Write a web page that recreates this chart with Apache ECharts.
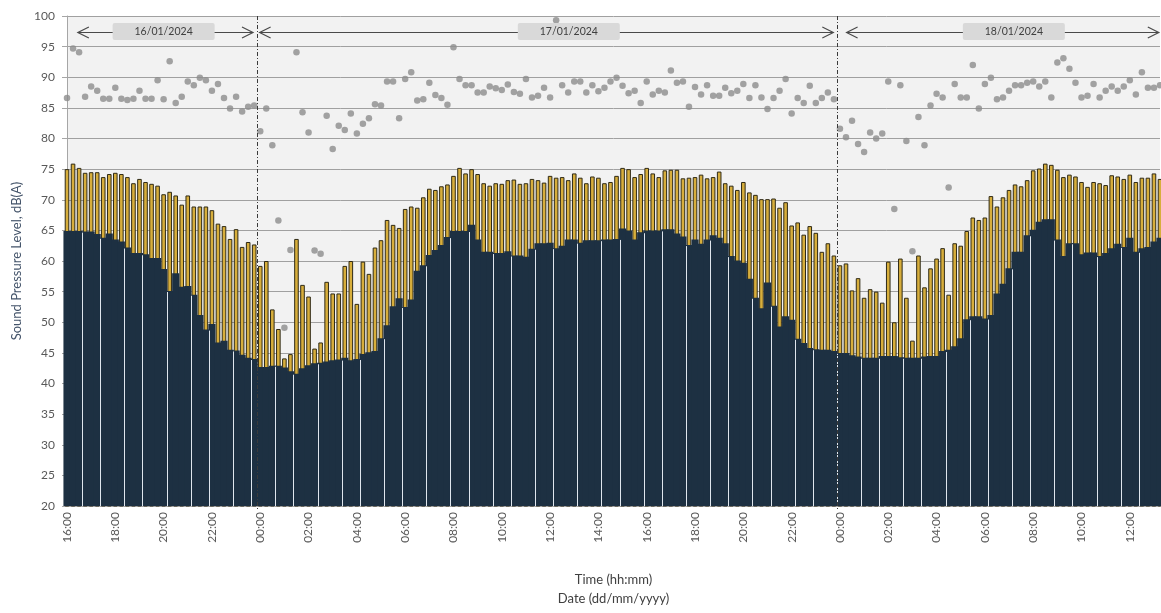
<!DOCTYPE html>
<html>
<head>
<meta charset="utf-8">
<script src="https://cdn.jsdelivr.net/npm/echarts@6/dist/echarts.min.js"></script>
<style>
  html, body { margin: 0; padding: 0; background: #ffffff; }
  #chart { width: 1161px; height: 613px; }
</style>
</head>
<body>
<div id="chart"></div>
<script>
// Measurement period: 15-minute intervals starting 16:00 on 16/01/2024
const startMinutes = 16 * 60;
const intervalMinutes = 15;
const intervalCount = 182;
const timeLabels = [];
for (let i = 0; i < intervalCount; i++) {
  const m = (startMinutes + i * intervalMinutes) % 1440;
  timeLabels.push(String(Math.floor(m / 60)).padStart(2, '0') + ':' + String(m % 60).padStart(2, '0'));
}

// LAeq,15min (dB)
const laeq = [
  75.0, 75.9, 75.2, 74.4, 74.5, 74.5, 73.7, 74.2, 74.4, 74.2,
  73.7, 72.7, 73.4, 72.9, 72.6, 72.3, 70.9, 71.3, 70.7, 69.2,
  70.7, 68.9, 68.9, 68.9, 68.3, 66.1, 65.7, 63.6, 65.2, 62.3,
  63.1, 62.7, 59.2, 60.0, 52.1, 48.9, 44.1, 44.8, 63.6, 56.1,
  54.2, 45.7, 46.7, 56.6, 54.7, 54.7, 59.2, 60.0, 53.0, 59.9,
  57.9, 62.2, 63.4, 66.7, 65.9, 65.4, 68.5, 68.9, 68.7, 70.4,
  71.8, 71.6, 72.2, 72.5, 73.9, 75.2, 74.3, 75.0, 74.2, 72.7,
  72.3, 72.7, 72.6, 73.2, 73.3, 72.6, 72.7, 73.4, 73.2, 72.8,
  73.9, 73.6, 73.7, 73.2, 74.3, 73.6, 72.7, 73.8, 73.6, 72.7,
  72.9, 73.9, 75.2, 75.0, 73.7, 74.2, 75.2, 74.3, 73.7, 74.8,
  74.9, 74.9, 73.5, 73.6, 73.7, 74.1, 73.5, 73.7, 74.6, 72.7,
  72.3, 71.6, 72.9, 71.2, 70.8, 70.1, 70.1, 70.2, 68.7, 69.6,
  65.8, 66.3, 64.3, 65.7, 64.6, 61.5, 62.9, 60.9, 59.3, 59.6,
  55.2, 57.2, 54.0, 55.4, 55.0, 53.2, 59.9, 50.0, 60.4, 54.0,
  47.0, 60.9, 55.7, 58.8, 60.4, 62.1, 54.5, 62.9, 62.5, 64.9,
  67.1, 66.7, 67.1, 70.6, 68.9, 70.4, 71.6, 72.5, 72.2, 73.2,
  74.8, 75.1, 75.9, 75.7, 74.9, 73.7, 74.1, 73.8, 72.9, 72.1,
  72.9, 72.7, 72.4, 74.0, 73.8, 73.4, 74.1, 72.9, 73.6, 73.6,
  74.3, 73.4
];

// LA90,15min (dB)
const la90 = [
  64.9, 64.9, 64.9, 64.8, 64.8, 64.4, 63.8, 64.5, 63.5, 63.2,
  62.2, 61.3, 61.3, 61.1, 60.5, 60.5, 58.7, 55.1, 58.0, 55.8,
  55.9, 54.5, 51.2, 48.8, 49.7, 46.7, 47.0, 45.5, 45.4, 44.7,
  44.2, 44.0, 42.7, 42.7, 42.9, 42.9, 42.6, 42.0, 41.6, 42.5,
  43.0, 43.3, 43.4, 43.6, 43.8, 43.9, 44.2, 43.8, 44.0, 44.8,
  45.1, 45.3, 47.4, 49.5, 52.6, 53.9, 52.5, 53.7, 58.4, 59.3,
  61.0, 61.8, 62.6, 63.9, 64.9, 64.9, 64.9, 65.9, 63.5, 61.5,
  61.5, 61.3, 61.3, 61.6, 60.9, 60.9, 60.7, 62.0, 62.9, 62.9,
  63.0, 62.1, 62.5, 63.5, 63.5, 63.0, 63.4, 63.4, 63.4, 63.5,
  63.5, 63.6, 65.3, 65.0, 63.5, 64.7, 65.0, 65.0, 65.0, 65.2,
  65.2, 64.5, 64.0, 62.6, 63.5, 62.8, 63.5, 64.2, 63.8, 62.9,
  60.8, 60.1, 59.7, 57.1, 54.0, 52.3, 56.5, 52.7, 49.3, 51.0,
  50.4, 47.3, 46.6, 45.8, 45.6, 45.5, 45.5, 45.3, 45.0, 45.0,
  44.6, 44.4, 44.2, 44.2, 44.2, 44.5, 44.5, 44.5, 44.3, 44.2,
  44.2, 44.2, 44.4, 44.5, 44.5, 45.3, 45.5, 46.1, 47.4, 50.5,
  51.0, 51.0, 50.6, 51.2, 54.7, 56.3, 58.8, 61.5, 61.5, 64.2,
  65.1, 66.4, 66.8, 66.8, 63.5, 60.8, 62.9, 62.9, 61.1, 61.4,
  61.4, 60.8, 61.3, 62.1, 62.8, 62.3, 63.8, 61.5, 62.1, 62.3,
  63.2, 63.8
];

// LAmax,15min (dB)
const lamax = [
  86.6, 94.7, 94.1, 86.8, 88.5, 87.8, 86.5, 86.5, 88.3, 86.5,
  86.3, 86.5, 87.8, 86.5, 86.5, 89.5, 86.4, 92.6, 85.8, 86.8,
  89.3, 88.7, 89.9, 89.5, 87.8, 88.9, 86.6, 84.9, 86.8, 84.4,
  85.2, 85.4, 81.2, 84.9, 78.9, 66.6, 49.1, 61.8, 94.1, 84.3,
  81.0, 61.7, 61.2, 83.7, 78.3, 82.1, 81.4, 84.1, 80.8, 82.4,
  83.3, 85.6, 85.4, 89.3, 89.3, 83.3, 89.7, 90.8, 86.2, 86.4,
  89.1, 87.1, 86.6, 85.5, 94.9, 89.7, 88.7, 88.7, 87.5, 87.5,
  88.5, 88.2, 87.9, 88.8, 87.6, 87.3, 89.7, 86.7, 87.0, 88.3,
  86.7, 99.3, 88.7, 87.5, 89.3, 89.3, 87.5, 88.7, 87.7, 88.3,
  89.3, 89.9, 88.6, 87.4, 87.8, 85.8, 89.3, 87.2, 87.8, 87.5,
  91.1, 89.1, 89.3, 85.2, 88.4, 87.2, 88.7, 87.0, 87.0, 88.3,
  87.4, 87.8, 88.9, 86.6, 88.7, 86.7, 84.8, 86.6, 87.8, 89.7,
  84.1, 86.6, 85.8, 88.6, 85.8, 86.6, 87.5, 86.4, 81.6, 80.2,
  82.9, 79.1, 77.8, 81.0, 80.0, 80.8, 89.3, 68.5, 88.7, 79.6,
  61.6, 83.5, 78.9, 85.4, 87.3, 86.7, 72.0, 88.9, 86.7, 86.7,
  92.0, 84.9, 88.9, 89.9, 86.4, 86.7, 87.8, 88.7, 88.7, 89.1,
  89.3, 88.5, 89.3, 86.7, 92.4, 93.1, 91.4, 89.1, 86.7, 87.0,
  88.9, 86.7, 87.8, 88.5, 87.8, 88.5, 89.5, 87.2, 90.8, 88.3,
  88.3, 88.7
];

// Day annotations (positions in interval units along the time axis)
const dayLabels = ['16/01/2024', '17/01/2024', '18/01/2024'];
const dayArrowSpans = [[1.8, 30.8], [31.9, 126.9], [129.1, 180.8]];
const dayLabelCentres = [16.0, 83.1, 156.8];
const dayArrowLevel = 97.35;
// Last interval before each midnight
const midnightAfter = [31, 127];

// Hairline separators through the LA90 band (every ~3.6 intervals)
const seamPeriod = 3.583, seamPhase = 2.1;
const seamAfter = [];
for (let k = 0; ; k++) {
  const b = Math.floor(seamPhase + seamPeriod * k);
  if (b >= intervalCount - 1) break;
  seamAfter.push(b);
}

const FONT = 'Lato, "Open Sans", sans-serif';

function xAt(api, idx) {
  const x0 = api.coord([0, 20])[0];
  const x1 = api.coord([1, 20])[0];
  return x0 + (x1 - x0) * idx;
}

const chart = echarts.init(document.getElementById('chart'), null, { renderer: 'canvas' });

chart.setOption({
  animation: false,
  backgroundColor: '#ffffff',
  grid: {
    left: 67, right: 1, top: 16, bottom: 106,
    show: true, backgroundColor: '#f2f2f2', borderWidth: 0
  },
  xAxis: [
    {
      type: 'category',
      data: timeLabels,
      boundaryGap: false,
      axisLine: { show: true, lineStyle: { color: '#a6a6a6', width: 1 } },
      axisTick: { show: false },
      axisLabel: {
        interval: 7, rotate: 90, margin: 6,
        color: '#595959', fontFamily: FONT, fontSize: 12
      },
      splitLine: { show: false },
      name: 'Time (hh:mm)\nDate (dd/mm/yyyy)',
      nameLocation: 'middle',
      nameGap: 64,
      nameTextStyle: { color: '#404040', fontFamily: FONT, fontSize: 13, lineHeight: 19 }
    },
    {
      type: 'category',
      data: timeLabels,
      boundaryGap: false,
      show: false
    }
  ],
  yAxis: {
    type: 'value',
    min: 20, max: 100, interval: 5,
    axisLine: { show: true, lineStyle: { color: '#a6a6a6', width: 1 } },
    axisTick: { show: true, length: 5, lineStyle: { color: '#a6a6a6' } },
    axisLabel: { margin: 12, color: '#595959', fontFamily: FONT, fontSize: 12 },
    splitLine: { show: true, lineStyle: { color: '#a0a0a0', width: 1 } },
    name: 'Sound Pressure Level, dB(A)',
    nameLocation: 'middle',
    nameGap: 41,
    nameTextStyle: { color: '#44546a', fontFamily: FONT, fontSize: 13 }
  },
  series: [
    {
      name: 'LAeq',
      type: 'bar',
      xAxisIndex: 0,
      data: laeq,
      barWidth: '76%',
      clip: true,
      itemStyle: { color: '#d7ae3c', borderColor: '#2f2a16', borderWidth: 1 }
    },
    {
      name: 'LA90',
      type: 'bar',
      xAxisIndex: 1,
      data: la90,
      barWidth: '118%',
      clip: true,
      itemStyle: { color: '#1d3042' }
    },
    {
      name: 'LA90 separators',
      type: 'custom',
      xAxisIndex: 0,
      data: seamAfter.map(function (b) { return [b, 20]; }),
      z: 3,
      renderItem: function (params, api) {
        const b = seamAfter[params.dataIndex];
        const x = Math.round(xAt(api, b + 0.5)) + 0.5;
        const yBot = api.coord([0, 20])[1];
        const yTop = api.coord([0, Math.min(la90[b], la90[b + 1])])[1];
        return {
          type: 'line',
          shape: { x1: x, y1: yBot, x2: x, y2: yTop + 1 },
          style: { stroke: '#dfe6ee', lineWidth: 1 }
        };
      }
    },
    {
      name: 'LAmax',
      type: 'scatter',
      xAxisIndex: 0,
      data: lamax,
      symbol: 'circle',
      symbolSize: 6.5,
      itemStyle: { color: '#8c8c8c' },
      z: 4
    },
    {
      name: 'Midnight',
      type: 'custom',
      xAxisIndex: 0,
      data: midnightAfter.map(function (b) { return [b, 100]; }),
      z: 6,
      renderItem: function (params, api) {
        const b = midnightAfter[params.dataIndex];
        const x = Math.round(xAt(api, b + 0.5)) + 0.5;
        const yTop = api.coord([0, 100])[1];
        const yBot = api.coord([0, 20])[1];
        return {
          type: 'line',
          shape: { x1: x, y1: yTop, x2: x, y2: yBot + 4 },
          style: { stroke: '#3a3a3a', lineWidth: 1, lineDash: [4, 2, 1, 2] }
        };
      }
    },
    {
      name: 'Days',
      type: 'custom',
      xAxisIndex: 0,
      data: dayLabels.map(function (t, i) { return [Math.round(dayLabelCentres[i]), dayArrowLevel]; }),
      z: 8,
      renderItem: function (params, api) {
        const i = params.dataIndex;
        const y = Math.round(api.coord([0, dayArrowLevel])[1]) + 0.5;
        const xa = xAt(api, dayArrowSpans[i][0]);
        const xb = xAt(api, dayArrowSpans[i][1]);
        const xc = xAt(api, dayLabelCentres[i]);
        const len = 11, half = 5.5;
        const stroke = { stroke: '#4a4a4a', lineWidth: 1.2, fill: null };
        return {
          type: 'group',
          children: [
            { type: 'line', shape: { x1: xa, y1: y, x2: xb, y2: y }, style: stroke },
            { type: 'polyline', shape: { points: [[xa + len, y - half], [xa, y], [xa + len, y + half]] }, style: stroke },
            { type: 'polyline', shape: { points: [[xb - len, y - half], [xb, y], [xb - len, y + half]] }, style: stroke },
            { type: 'rect', shape: { x: xc - 51, y: y - 9.5, width: 102, height: 17, r: 2 }, style: { fill: '#d9d9d9' } },
            { type: 'text', style: { text: dayLabels[i], x: xc, y: y - 1, align: 'center', verticalAlign: 'middle', fill: '#404040', font: '10.5px ' + FONT } }
          ]
        };
      }
    }
  ]
});
</script>
</body>
</html>
